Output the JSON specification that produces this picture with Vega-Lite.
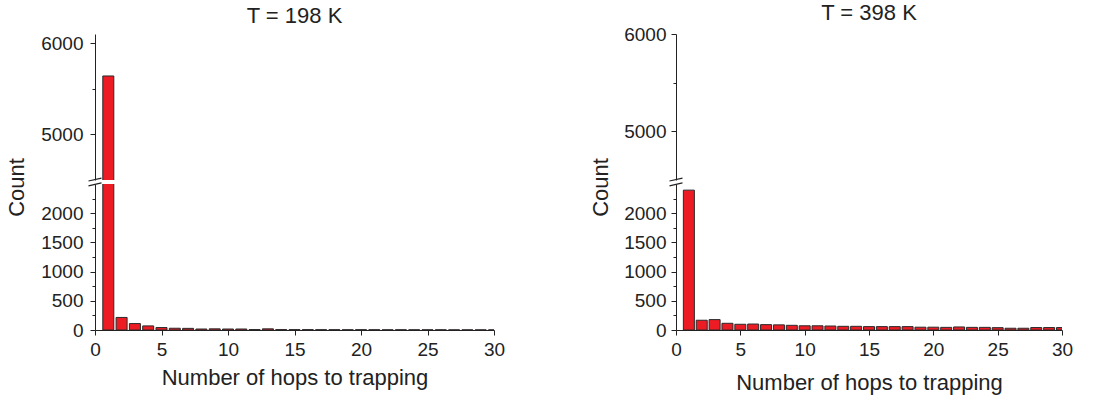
{
  "$schema": "https://vega.github.io/schema/vega-lite/v6.json",
  "background": "white",
  "padding": {"left": 5, "top": 2, "right": 5, "bottom": 2},
  "config": {
    "font": "Liberation Sans",
    "view": {"stroke": null},
    "scale": {"continuousPadding": 0},
    "axis": {
      "grid": false,
      "domainColor": "#222",
      "tickColor": "#222",
      "labelColor": "#222",
      "titleColor": "#222",
      "labelFontSize": 19,
      "titleFontSize": 22,
      "titleFontWeight": "normal",
      "labelFont": "Liberation Sans",
      "titleFont": "Liberation Sans",
      "labelOverlap": false,
      "labelFlush": false
    },
    "axisX": {"labelFlush": false},
    "title": {"fontSize": 22, "fontWeight": "normal", "color": "#222", "font": "Liberation Sans"}
  },
  "datasets": {
    "t198": [
      {"hops": 1, "count": 5640}, {"hops": 2, "count": 215}, {"hops": 3, "count": 110}, {"hops": 4, "count": 70},
      {"hops": 5, "count": 42}, {"hops": 6, "count": 30}, {"hops": 7, "count": 28}, {"hops": 8, "count": 17},
      {"hops": 9, "count": 20}, {"hops": 10, "count": 17}, {"hops": 11, "count": 17}, {"hops": 12, "count": 8},
      {"hops": 13, "count": 20}, {"hops": 14, "count": 7}, {"hops": 15, "count": 6}, {"hops": 16, "count": 6},
      {"hops": 17, "count": 5}, {"hops": 18, "count": 5}, {"hops": 19, "count": 4}, {"hops": 20, "count": 5},
      {"hops": 21, "count": 4}, {"hops": 22, "count": 3}, {"hops": 23, "count": 4}, {"hops": 24, "count": 3},
      {"hops": 25, "count": 3}, {"hops": 26, "count": 3}, {"hops": 27, "count": 2}, {"hops": 28, "count": 2},
      {"hops": 29, "count": 2}, {"hops": 30, "count": 2}
    ],
    "t398": [
      {"hops": 1, "count": 2395}, {"hops": 2, "count": 167}, {"hops": 3, "count": 178}, {"hops": 4, "count": 115},
      {"hops": 5, "count": 98}, {"hops": 6, "count": 102}, {"hops": 7, "count": 92}, {"hops": 8, "count": 88},
      {"hops": 9, "count": 80}, {"hops": 10, "count": 72}, {"hops": 11, "count": 72}, {"hops": 12, "count": 68},
      {"hops": 13, "count": 63}, {"hops": 14, "count": 63}, {"hops": 15, "count": 58}, {"hops": 16, "count": 58},
      {"hops": 17, "count": 58}, {"hops": 18, "count": 58}, {"hops": 19, "count": 48}, {"hops": 20, "count": 48},
      {"hops": 21, "count": 45}, {"hops": 22, "count": 52}, {"hops": 23, "count": 45}, {"hops": 24, "count": 45},
      {"hops": 25, "count": 40}, {"hops": 26, "count": 30}, {"hops": 27, "count": 30}, {"hops": 28, "count": 42},
      {"hops": 29, "count": 42}, {"hops": 30, "count": 42}
    ]
  },
  "spacing": 84,
  "hconcat": [
    {
      "spacing": 4,
      "bounds": "flush",
      "vconcat": [
        {
          "width": 399, "height": 146,
          "data": {"name": "t198"},
          "title": {"text": "T = 198 K", "offset": 6},
          "resolve": {"axis": {"y": "independent"}},
          "layer": [
            {
              "mark": {"type": "bar", "clip": true, "color": "#ED1C24", "stroke": "#2a2a2a", "strokeWidth": 1, "size": 11},
              "encoding": {
                "x": {"field": "hops", "type": "quantitative", "scale": {"domain": [0, 30], "nice": false, "padding": 0}, "axis": null},
                "y": {"field": "count", "type": "quantitative", "scale": {"domain": [4500, 6100], "nice": false, "zero": false},
                  "axis": {"title": null, "values": [5000, 6000], "format": "d", "tickSize": 5, "labelPadding": 7}}
              }
            },
            {
              "mark": {"type": "bar", "clip": true, "opacity": 0, "size": 11},
              "encoding": {
                "x": {"field": "hops", "type": "quantitative", "scale": {"domain": [0, 30], "nice": false, "padding": 0}, "axis": null},
                "y": {"field": "count", "type": "quantitative", "scale": {"domain": [4500, 6100], "nice": false, "zero": false},
                  "axis": {"orient": "left", "title": null, "values": [5500], "labels": false, "domain": false, "tickSize": 3}}
              }
            }
          ]
        },
        {
          "width": 399, "height": 146,
          "resolve": {"axis": {"y": "independent"}},
          "layer": [
            {
              "data": {"name": "t198"},
              "mark": {"type": "bar", "clip": true, "color": "#ED1C24", "stroke": "#2a2a2a", "strokeWidth": 1, "size": 11},
              "encoding": {
                "x": {"field": "hops", "type": "quantitative", "scale": {"domain": [0, 30], "nice": false, "padding": 0},
                  "axis": {"title": "Number of hops to trapping", "values": [0, 2.5, 5, 7.5, 10, 12.5, 15, 17.5, 20, 22.5, 25, 27.5, 30], "format": "d", "labelOverlap": false, "labelFlush": false,
                    "labelExpr": "datum.value % 5 === 0 ? datum.label : ''",
                    "tickSize": {"condition": {"test": "datum.value % 5 === 0", "value": 5}, "value": 3},
                    "labelPadding": 5, "titlePadding": 8}},
                "y": {"field": "count", "type": "quantitative", "scale": {"domain": [0, 2500], "nice": false},
                  "axis": {"title": "Count", "values": [0, 500, 1000, 1500, 2000], "format": "d", "tickSize": 5,
                    "labelPadding": 7, "titlePadding": 12, "titleY": 3, "titleAlign": "center"}}
              }
            },
            {
              "data": {"name": "t198"},
              "mark": {"type": "bar", "clip": true, "opacity": 0, "size": 11},
              "encoding": {
                "x": {"field": "hops", "type": "quantitative", "scale": {"domain": [0, 30], "nice": false, "padding": 0}},
                "y": {"field": "count", "type": "quantitative",
                  "axis": {"orient": "left", "title": null, "values": [250, 750, 1250, 1750, 2250], "labels": false, "domain": false, "tickSize": 3}}
              }
            },
            {
              "data": {"values": [{}]},
              "mark": {"type": "point", "clip": false, "filled": false, "stroke": "#222", "strokeWidth": 1.2, "opacity": 1, "size": 169,
                "shape": "M -1 -0.15 L 1 -0.6 M -1 0.6 L 1 0.15"},
              "encoding": {"x": {"datum": 0}, "y": {"datum": 2535, "axis": null}}
            }
          ]
        }
      ]
    },
    {
      "spacing": 4,
      "bounds": "flush",
      "vconcat": [
        {
          "width": 386, "height": 146,
          "data": {"name": "t398"},
          "title": {"text": "T = 398 K", "offset": 0},
          "resolve": {"axis": {"y": "independent"}},
          "layer": [
            {
              "mark": {"type": "bar", "clip": true, "color": "#ED1C24", "stroke": "#2a2a2a", "strokeWidth": 1, "size": 11},
              "encoding": {
                "x": {"field": "hops", "type": "quantitative", "scale": {"domain": [0, 30], "nice": false, "padding": 0}, "axis": null},
                "y": {"field": "count", "type": "quantitative", "scale": {"domain": [4500, 6000], "nice": false, "zero": false},
                  "axis": {"title": null, "values": [5000, 6000], "format": "d", "tickSize": 5, "labelPadding": 5}}
              }
            },
            {
              "mark": {"type": "bar", "clip": true, "opacity": 0, "size": 11},
              "encoding": {
                "x": {"field": "hops", "type": "quantitative", "scale": {"domain": [0, 30], "nice": false, "padding": 0}, "axis": null},
                "y": {"field": "count", "type": "quantitative", "scale": {"domain": [4500, 6000], "nice": false, "zero": false},
                  "axis": {"orient": "left", "title": null, "values": [5500], "labels": false, "domain": false, "tickSize": 3}}
              }
            }
          ]
        },
        {
          "width": 386, "height": 146,
          "resolve": {"axis": {"y": "independent"}},
          "layer": [
            {
              "data": {"name": "t398"},
              "mark": {"type": "bar", "clip": true, "color": "#ED1C24", "stroke": "#2a2a2a", "strokeWidth": 1, "size": 11},
              "encoding": {
                "x": {"field": "hops", "type": "quantitative", "scale": {"domain": [0, 30], "nice": false, "padding": 0},
                  "axis": {"title": "Number of hops to trapping", "values": [0, 2.5, 5, 7.5, 10, 12.5, 15, 17.5, 20, 22.5, 25, 27.5, 30], "format": "d", "labelOverlap": false, "labelFlush": false,
                    "labelExpr": "datum.value % 5 === 0 ? datum.label : ''",
                    "tickSize": {"condition": {"test": "datum.value % 5 === 0", "value": 5}, "value": 3},
                    "labelPadding": 5, "titlePadding": 13}},
                "y": {"field": "count", "type": "quantitative", "scale": {"domain": [0, 2500], "nice": false},
                  "axis": {"title": "Count", "values": [0, 500, 1000, 1500, 2000], "format": "d", "tickSize": 5,
                    "labelPadding": 5, "titlePadding": 11, "titleY": 3, "titleAlign": "center"}}
              }
            },
            {
              "data": {"name": "t398"},
              "mark": {"type": "bar", "clip": true, "opacity": 0, "size": 11},
              "encoding": {
                "x": {"field": "hops", "type": "quantitative", "scale": {"domain": [0, 30], "nice": false, "padding": 0}},
                "y": {"field": "count", "type": "quantitative",
                  "axis": {"orient": "left", "title": null, "values": [250, 750, 1250, 1750, 2250], "labels": false, "domain": false, "tickSize": 3}}
              }
            },
            {
              "data": {"values": [{}]},
              "mark": {"type": "point", "clip": false, "filled": false, "stroke": "#222", "strokeWidth": 1.2, "opacity": 1, "size": 169,
                "shape": "M -1 -0.15 L 1 -0.6 M -1 0.6 L 1 0.15"},
              "encoding": {"x": {"datum": 0}, "y": {"datum": 2535, "axis": null}}
            }
          ]
        }
      ]
    }
  ]
}
